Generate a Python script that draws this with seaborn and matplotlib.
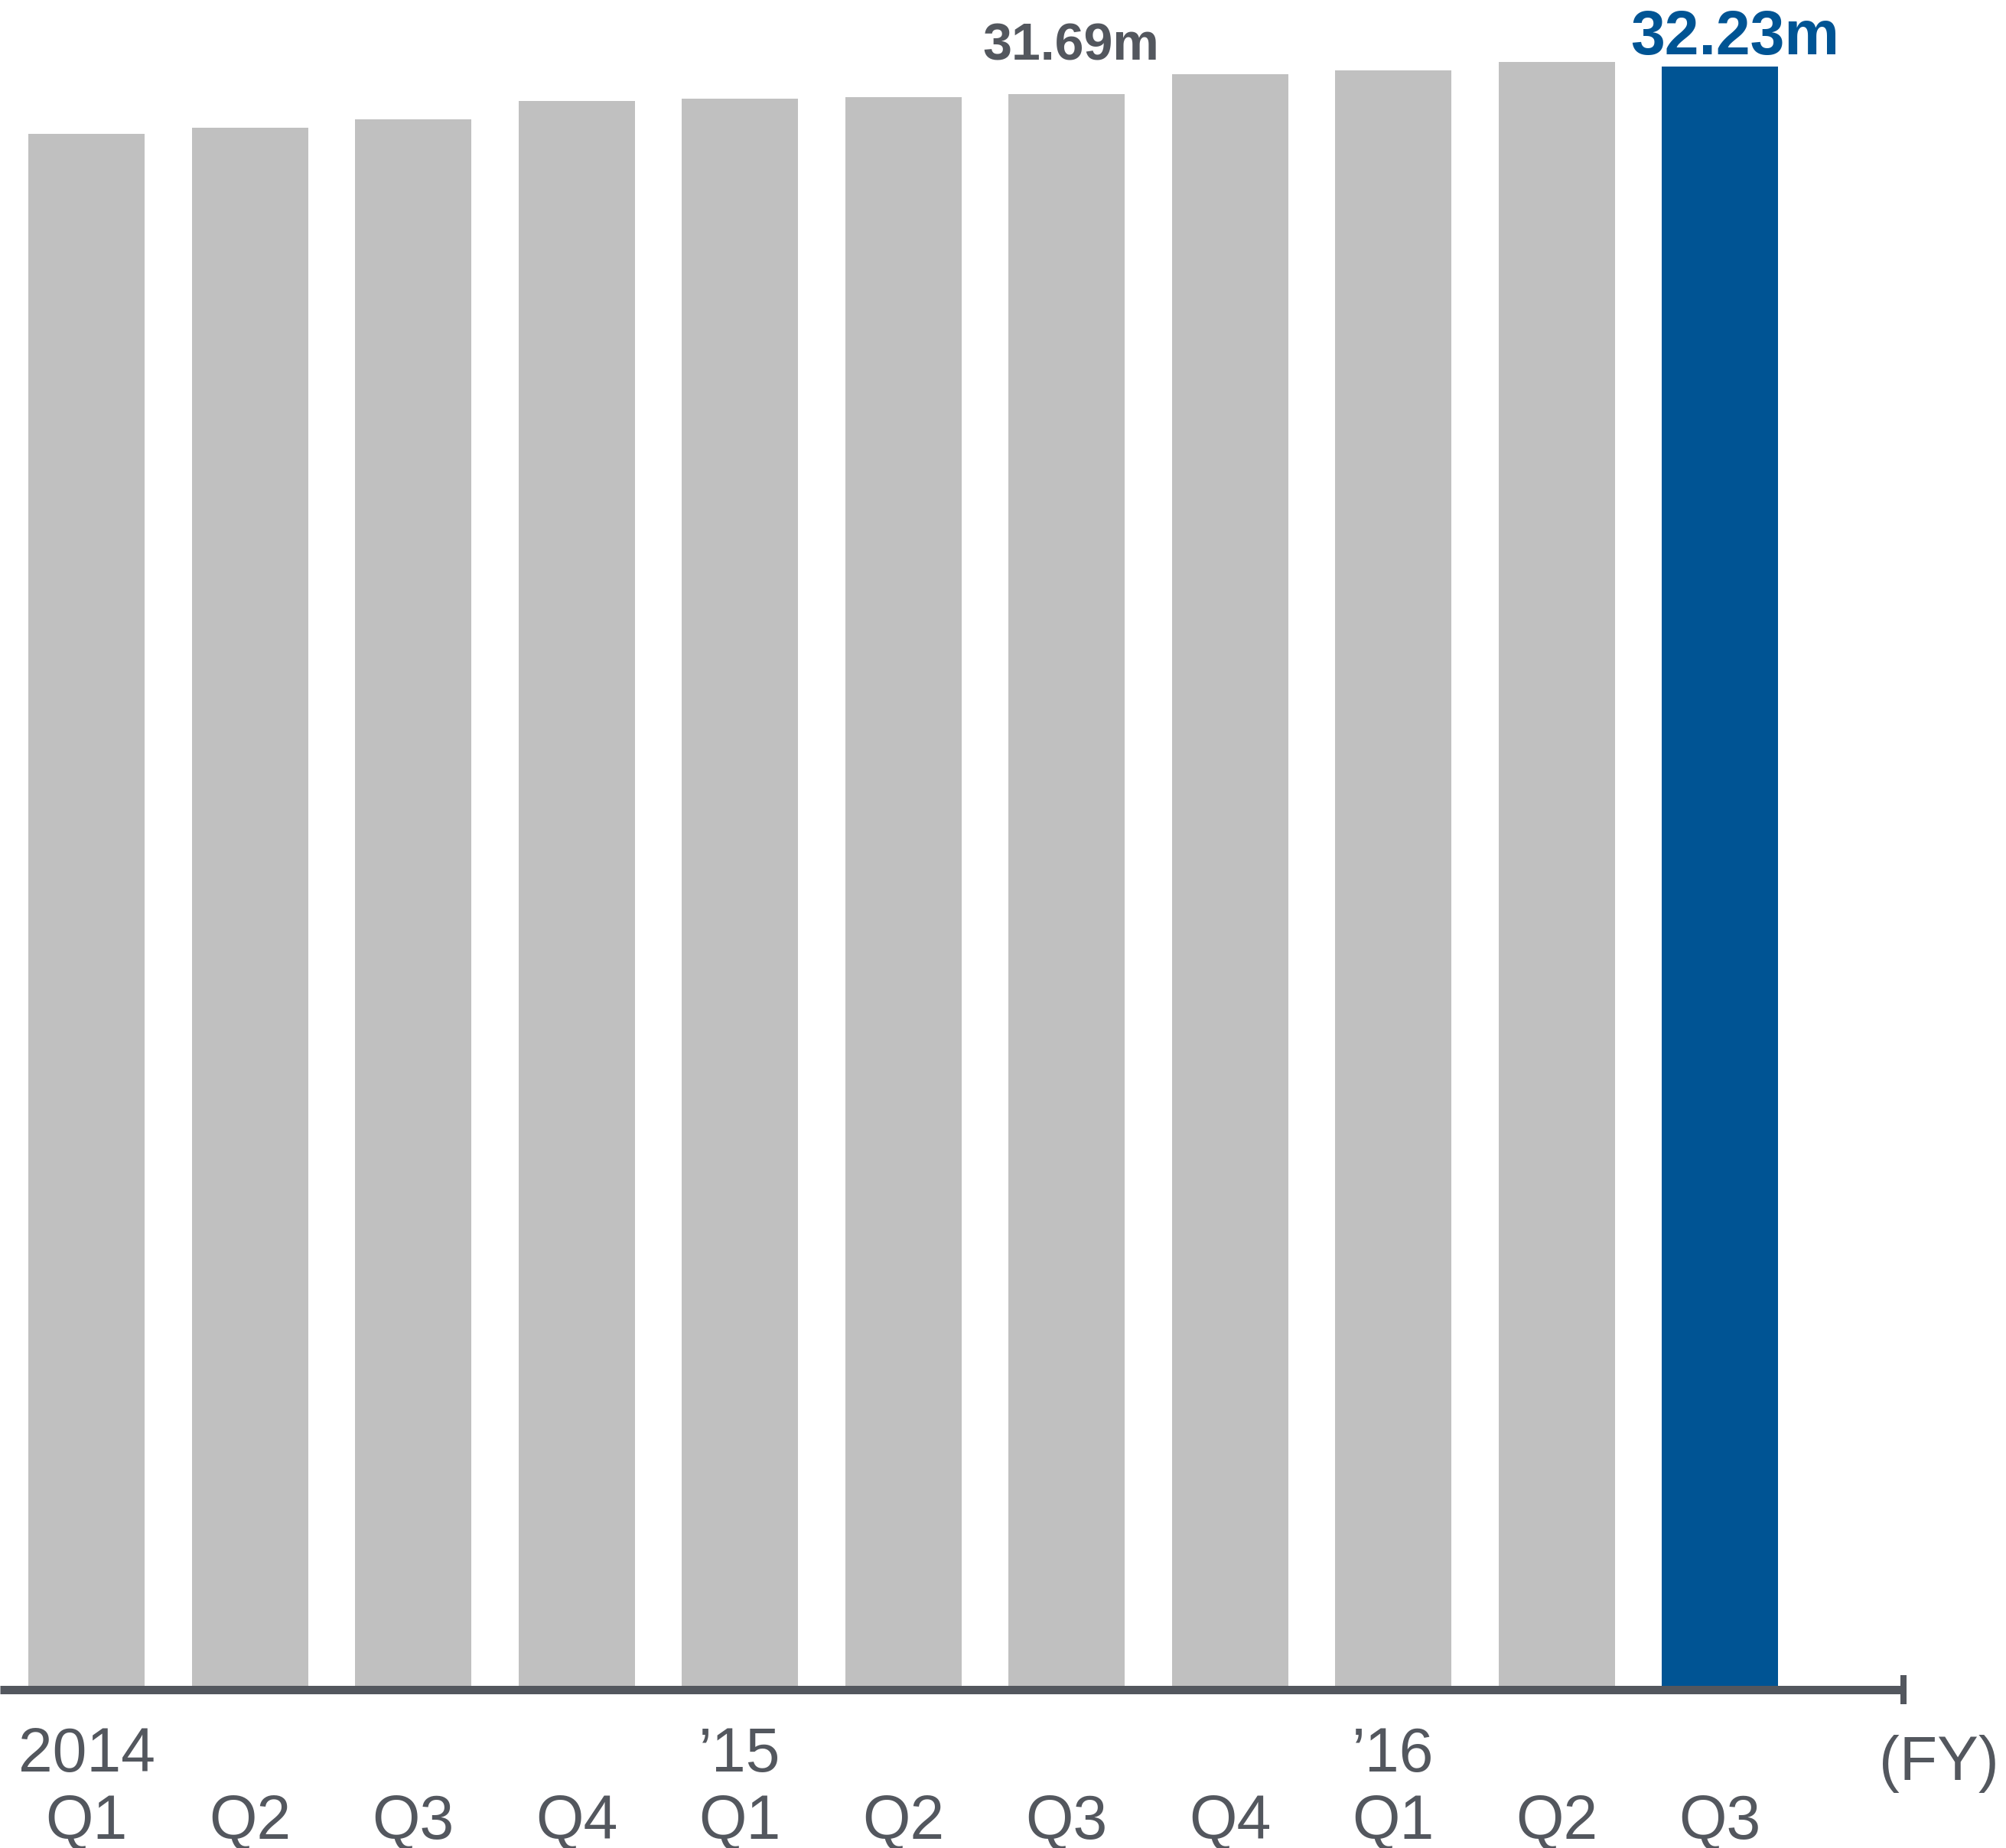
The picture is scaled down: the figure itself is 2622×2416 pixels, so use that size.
import matplotlib
matplotlib.use("Agg")
import matplotlib.pyplot as plt
import seaborn as sns
import pandas as pd

# Quarterly subscriber counts (millions), FY2014 Q1 .. FY2016 Q3
periods = ["2014 Q1", "2014 Q2", "2014 Q3", "2014 Q4",
           "2015 Q1", "2015 Q2", "2015 Q3", "2015 Q4",
           "2016 Q1", "2016 Q2", "2016 Q3"]
quarter_labels = ["Q1", "Q2", "Q3", "Q4", "Q1", "Q2", "Q3", "Q4", "Q1", "Q2", "Q3"]
subscribers = [30.89, 31.02, 31.18, 31.55, 31.59, 31.62, 31.69, 32.08, 32.16, 32.32, 32.23]
year_labels = ["2014", "\u201915", "\u201916"]
year_positions = [0, 4, 8]
annotated = {6: "31.69m", 10: "32.23m"}

GRAY_BAR = "#C0C0C0"
BLUE = "#005494"
TEXT = "#53575E"

df = pd.DataFrame({
    "period": periods,
    "subscribers": subscribers,
    "latest": ["yes" if i == len(periods) - 1 else "no" for i in range(len(periods))],
})

sns.set_theme(style="white")
plt.rcParams["font.family"] = ["Liberation Sans", "DejaVu Sans"]

W, H, DPI = 2622, 2416, 100
STEP = 213.5          # pixel distance between bar centres
FIRST = 113           # pixel centre of the first bar
AXIS_END = 2488
fig = plt.figure(figsize=(W / DPI, H / DPI), dpi=DPI)
base_px = 2208.5
ax = fig.add_axes([0, (H - base_px) / H, AXIS_END / W, base_px / H])

sns.barplot(data=df, x="period", y="subscribers", hue="latest",
            palette={"no": GRAY_BAR, "yes": BLUE}, order=periods,
            dodge=False, legend=False, width=152 / STEP, saturation=1,
            linewidth=0, ax=ax)

ax.set_xlim(-FIRST / STEP, (AXIS_END - FIRST) / STEP)
ax.set_ylim(0, base_px / 65.82)

for s in ["top", "right", "left"]:
    ax.spines[s].set_visible(False)
ax.spines["bottom"].set_color(TEXT)
ax.spines["bottom"].set_linewidth(11 * 72 / DPI)
ax.spines["bottom"].set_capstyle("butt")
ax.set_yticks([])
ax.set_xlabel("")
ax.set_ylabel("")

# Quarter labels on the category axis
ax.set_xticks(range(len(periods)))
ax.set_xticklabels(quarter_labels, fontsize=58, color=TEXT)
ax.tick_params(axis="x", length=0, pad=(2404 - base_px) * 72 / DPI)
for lbl in ax.get_xticklabels():
    lbl.set_va("baseline")

# Fiscal-year labels above the quarter row
trans = matplotlib.transforms.blended_transform_factory(ax.transData, fig.transFigure)
for pos, yl in zip(year_positions, year_labels):
    ax.text(pos, (H - 2316) / H, yl, transform=trans, ha="center", va="baseline",
            fontsize=58, color=TEXT, clip_on=False)

fig.text(2534 / W, (H - 2327) / H, "(FY)", ha="center", va="baseline",
         fontsize=58, color=TEXT)

# End cap of the axis line
ax.plot([AXIS_END / W, AXIS_END / W], [(H - 2228) / H, (H - 2190) / H],
        transform=fig.transFigure, color=TEXT, lw=8 * 72 / DPI,
        solid_capstyle="butt", clip_on=False)

# Value callouts
ax.annotate(annotated[6], xy=(6, subscribers[6]), xytext=(6 * 72 / DPI, 44 * 72 / DPI),
            textcoords="offset points", ha="center", va="baseline",
            fontsize=49, fontweight="bold", color=TEXT, annotation_clip=False)
ax.annotate(annotated[10], xy=(10, subscribers[10]), xytext=(20 * 72 / DPI, 16 * 72 / DPI),
            textcoords="offset points", ha="center", va="baseline",
            fontsize=58, fontweight="bold", color=BLUE, annotation_clip=False)

fig.savefig("out.png", dpi=DPI, facecolor="white")
